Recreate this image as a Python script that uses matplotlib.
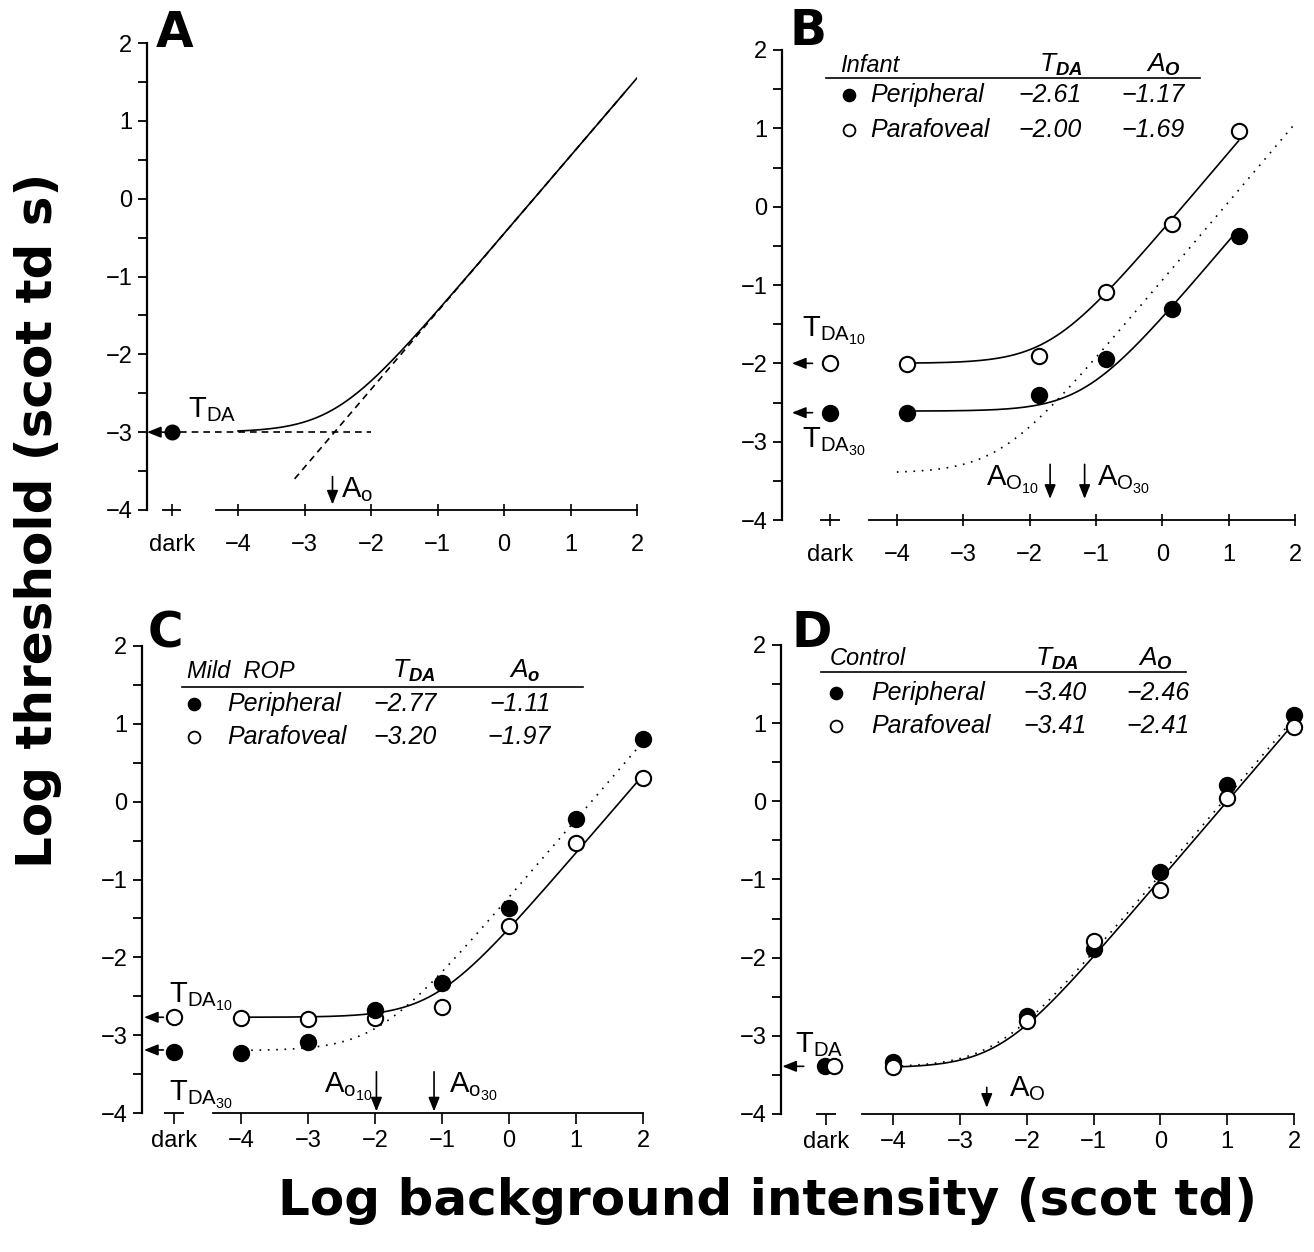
import numpy as np
import matplotlib
matplotlib.use("Agg")
import matplotlib.pyplot as plt

plt.rcParams.update({
    "font.family": ["Liberation Sans", "DejaVu Sans"],
    "mathtext.fontset": "custom",
    "mathtext.rm": "Liberation Sans",
    "mathtext.it": "Liberation Sans:italic",
    "mathtext.bf": "Liberation Sans:bold:italic",
    "axes.unicode_minus": True,
})

# ---------------- data ----------------
X_TICKS = [-4, -3, -2, -1, 0, 1, 2]
X_TICK_LABELS = ["dark", "−4", "−3", "−2", "−1", "0", "1", "2"]
Y_TICKS = [-4, -3, -2, -1, 0, 1, 2]
Y_MINOR = [-3.5, -2.5, -1.5, -0.5, 0.5, 1.5]
Y_TICK_LABELS = ["−4", "−3", "−2", "−1", "0", "1", "2"]
DARK = -5.0

# Panel A (schematic)
a_tda = -3.0
a_ao = -2.55

# Panel B - Infant
b_x = [-3.85, -1.85, -0.85, 0.15, 1.15]
b_peri = [-2.63, -2.40, -1.95, -1.30, -0.38]
b_para = [-2.01, -1.91, -1.09, -0.22, 0.97]
b_dark_peri = -2.63
b_dark_para = -2.00
b_rows = ["Peripheral", "Parafoveal"]
b_tda = ["−2.61", "−2.00"]
b_ao = ["−1.17", "−1.69"]
b_fit_tda = [-2.61, -2.00]
b_fit_ao = [-1.17, -1.69]

# Panel C - Mild ROP
c_x = [-4, -3, -2, -1, 0, 1, 2]
c_filled = [-3.23, -3.09, -2.68, -2.33, -1.36, -0.22, 0.80]
c_open = [-2.78, -2.79, -2.78, -2.64, -1.60, -0.53, 0.30]
c_dark_filled = -3.22
c_dark_open = -2.77
c_rows = ["Peripheral", "Parafoveal"]
c_tda = ["−2.77", "−3.20"]
c_ao = ["−1.11", "−1.97"]
c_fit_tda = [-2.77, -3.20]
c_fit_ao = [-1.11, -1.97]

# Panel D - Control
d_x = [-4, -2, -1, 0, 1, 2]
d_filled = [-3.33, -2.74, -1.89, -0.90, 0.21, 1.11]
d_open = [-3.40, -2.81, -1.79, -1.14, 0.04, 0.95]
d_dark = -3.39
d_rows = ["Peripheral", "Parafoveal"]
d_tda = ["−3.40", "−3.41"]
d_ao = ["−2.46", "−2.41"]
d_fit_tda = [-3.40, -3.41]
d_fit_ao = [-2.46, -2.41]


def template(x, tda, ao):
    return tda + np.log10(1.0 + 10.0 ** (x - ao))


W, H = 1314, 1252
fig = plt.figure(figsize=(W / 100, H / 100), dpi=100)

TICK_FS = 17
ANN_FS = 21
TAB_FS = 18
HEAD_FS = 17
LW = 1.2
MS = 11


def make_axes(rect, xmin, xstart, tickdir):
    ax = fig.add_axes(rect)
    ax.set_xlim(xmin, 2.0)
    ax.set_ylim(-4, 2)
    ax.patch.set_alpha(0)
    for s in ["top", "right"]:
        ax.spines[s].set_visible(False)
    ax.spines["left"].set_bounds(-4, 2)
    ax.spines["left"].set_linewidth(1.6)
    ax.spines["bottom"].set_bounds(xstart, 2)
    ax.spines["bottom"].set_linewidth(1.3)
    ax.set_xticks([DARK] + X_TICKS)
    ax.set_xticklabels(X_TICK_LABELS)
    ax.set_yticks(Y_TICKS)
    ax.set_yticklabels(Y_TICK_LABELS)
    ax.set_yticks(Y_MINOR, minor=True)
    ax.tick_params(axis="y", which="both", direction="out", length=6.5,
                   width=1.3, pad=4, labelsize=TICK_FS)
    if tickdir == "inout":
        ax.tick_params(axis="x", direction="inout", length=9, width=1.2,
                       pad=13, labelsize=TICK_FS)
    else:
        ax.tick_params(axis="x", direction="out", length=8, width=1.2,
                       pad=4, labelsize=TICK_FS)
    ax.plot([DARK - 0.15, DARK + 0.14], [-4, -4], color="k", lw=1.3,
            clip_on=False, solid_capstyle="butt")
    return ax


def arrow(ax, x0, y0, x1, y1):
    ax.annotate("", xy=(x1, y1), xytext=(x0, y0),
                arrowprops=dict(arrowstyle="-|>,head_length=0.7,head_width=0.28",
                                lw=1.2, color="k", shrinkA=0, shrinkB=0,
                                mutation_scale=12),
                annotation_clip=False)


def pts(ax, x, y, filled, ms=MS, z=4):
    ax.plot(x, y, "o", ms=ms, mfc="k" if filled else "white", mec="k",
            mew=1.5, ls="none", clip_on=False, zorder=z)


def table(ax, title, ao_sym, rows, tdas, aos, L):
    ax.text(L["title_x"], L["head_y"], title, style="italic", fontsize=HEAD_FS,
            ha="left", va="baseline")
    ax.text(L["tda_cx"], L["head_y"], r"$T_{\mathbf{DA}}$", fontsize=HEAD_FS + 2,
            ha="center", va="baseline")
    ax.text(L["ao_cx"], L["head_y"], r"$A_{\mathbf{%s}}$" % ao_sym,
            fontsize=HEAD_FS + 2, ha="center", va="baseline")
    ax.plot([L["line_x0"], L["line_x1"]], [L["line_y"]] * 2, "k", lw=1.2,
            clip_on=False)
    for i, (name, t, a) in enumerate(zip(rows, tdas, aos)):
        y = L["row_y"][i]
        ax.plot(L["mk_x"], y, "o", ms=8.5, mfc="k" if i == 0 else "white",
                mec="k", mew=1.3, clip_on=False)
        ax.text(L["name_x"], y, name, style="italic", fontsize=TAB_FS,
                ha="left", va="center")
        ax.text(L["c1_x"], y, t, style="italic", fontsize=TAB_FS,
                ha="right", va="center")
        ax.text(L["c2_x"], y, a, style="italic", fontsize=TAB_FS,
                ha="right", va="center")


# ---------------- Panel A ----------------
axA = make_axes([147 / W, 1 - 510 / H, 490 / W, 467 / H], -5.37, -4.33, "inout")
xa = np.linspace(-4, 2, 400)
axA.plot(xa, template(xa, a_tda, a_ao), "k", lw=LW)
axA.plot([-4.87, -2.0], [a_tda, a_tda], "k", lw=LW, dashes=(4, 3))
xd = np.array([-3.15, 1.85])
axA.plot(xd, xd + (a_tda - a_ao), "k", lw=LW, dashes=(4, 3))
pts(axA, [DARK], [a_tda], True, ms=10)
arrow(axA, DARK, a_tda, -5.37, a_tda)
axA.text(-4.75, -2.81, r"$\mathrm{T}_{\mathrm{DA}}$", fontsize=ANN_FS,
         ha="left", va="baseline")
arrow(axA, -2.58, -3.57, -2.58, -3.93)
axA.text(-2.45, -3.83, r"$\mathrm{A}_{\mathrm{o}}$", fontsize=ANN_FS,
         ha="left", va="baseline")

# ---------------- Panel B ----------------
axB = make_axes([782 / W, 1 - 520 / H, 513 / W, 470 / H], -5.73, -4.42, "inout")
xb = np.linspace(b_x[0], b_x[-1], 400)
axB.plot(xb, template(xb, b_fit_tda[1], b_fit_ao[1]), "k", lw=LW)
axB.plot(xb, template(xb, b_fit_tda[0], b_fit_ao[0]), "k", lw=LW)
xbd = np.linspace(-4, 2, 400)
axB.plot(xbd, template(xbd, d_fit_tda[0], d_fit_ao[0]), "k", lw=LW,
         dashes=(1, 4))
pts(axB, b_x, b_para, False)
pts(axB, b_x, b_peri, True)
pts(axB, [DARK], [b_dark_para], False)
pts(axB, [DARK], [b_dark_peri], True)
arrow(axB, -5.27, b_dark_para, -5.58, b_dark_para)
arrow(axB, -5.27, b_dark_peri, -5.58, b_dark_peri)
axB.text(-5.43, -1.66, r"$\mathrm{T}_{\mathrm{DA}_{10}}$", fontsize=ANN_FS,
         ha="left", va="baseline")
axB.text(-5.43, -3.08, r"$\mathrm{T}_{\mathrm{DA}_{30}}$", fontsize=ANN_FS,
         ha="left", va="baseline")
arrow(axB, b_fit_ao[1], -3.29, b_fit_ao[1], -3.73)
arrow(axB, b_fit_ao[0], -3.29, b_fit_ao[0], -3.73)
axB.text(-1.85, -3.56, r"$\mathrm{A}_{\mathrm{O}_{10}}$", fontsize=ANN_FS,
         ha="right", va="baseline")
axB.text(-0.98, -3.56, r"$\mathrm{A}_{\mathrm{O}_{30}}$", fontsize=ANN_FS,
         ha="left", va="baseline")
table(axB, "Infant", "O", b_rows, b_tda, b_ao,
      dict(title_x=-4.85, head_y=1.72, tda_cx=-1.53, ao_cx=0.02,
           line_x0=-5.06, line_x1=0.57, line_y=1.64, row_y=[1.43, 0.98],
           mk_x=-4.72, name_x=-4.40, c1_x=-1.22, c2_x=0.34))

# ---------------- Panel C ----------------
axC = make_axes([142 / W, 1 - 1113 / H, 501 / W, 467 / H], -5.48, -4.42, "out")
xc = np.linspace(-4, 2, 400)
axC.plot(xc, template(xc, c_fit_tda[0], c_fit_ao[0]), "k", lw=LW)
xcd = np.linspace(-3.85, 2, 400)
axC.plot(xcd, template(xcd, c_fit_tda[1], c_fit_ao[1]), "k", lw=LW,
         dashes=(1, 4))
pts(axC, c_x, c_open, False)
pts(axC, c_x, c_filled, True)
pts(axC, [DARK], [c_dark_open], False)
pts(axC, [DARK], [c_dark_filled], True)
arrow(axC, -5.16, c_dark_open, -5.45, c_dark_open)
arrow(axC, -5.16, -3.19, -5.45, -3.19)
axC.text(-5.08, -2.59, r"$\mathrm{T}_{\mathrm{DA}_{10}}$", fontsize=ANN_FS,
         ha="left", va="baseline")
axC.text(-5.08, -3.85, r"$\mathrm{T}_{\mathrm{DA}_{30}}$", fontsize=ANN_FS,
         ha="left", va="baseline")
arrow(axC, -1.98, -3.47, -1.98, -3.98)
arrow(axC, -1.12, -3.47, -1.12, -3.98)
axC.text(-2.04, -3.74, r"$\mathrm{A}_{\mathrm{o}_{10}}$", fontsize=ANN_FS,
         ha="right", va="baseline")
axC.text(-0.89, -3.74, r"$\mathrm{A}_{\mathrm{o}_{30}}$", fontsize=ANN_FS,
         ha="left", va="baseline")
table(axC, "Mild  ROP", "o", c_rows, c_tda, c_ao,
      dict(title_x=-4.81, head_y=1.59, tda_cx=-1.43, ao_cx=0.24,
           line_x0=-4.88, line_x1=1.10, line_y=1.47, row_y=[1.26, 0.83],
           mk_x=-4.71, name_x=-4.20, c1_x=-1.08, c2_x=0.62))

# ---------------- Panel D ----------------
axD = make_axes([781 / W, 1 - 1114 / H, 513 / W, 469 / H], -5.68, -4.46, "out")
xdd = np.linspace(-4, 2, 400)
axD.plot(xdd, template(xdd, d_fit_tda[0], d_fit_ao[0]), "k", lw=LW,
         dashes=(1, 4))
axD.plot(xdd, template(xdd, d_fit_tda[1], d_fit_ao[1]), "k", lw=LW)
pts(axD, d_x, d_filled, True)
pts(axD, d_x, d_open, False)
pts(axD, [DARK - 0.02], [d_dark], True)
pts(axD, [DARK + 0.11], [d_dark], False)
arrow(axD, -5.34, d_dark, -5.66, d_dark)
axD.text(-5.47, -3.21, r"$\mathrm{T}_{\mathrm{DA}}$", fontsize=ANN_FS,
         ha="left", va="baseline")
arrow(axD, -2.6, -3.66, -2.6, -3.92)
axD.text(-2.27, -3.77, r"$\mathrm{A}_{\mathrm{O}}$", fontsize=ANN_FS,
         ha="left", va="baseline")
table(axD, "Control", "O", d_rows, d_tda, d_ao,
      dict(title_x=-4.95, head_y=1.74, tda_cx=-1.55, ao_cx=-0.07,
           line_x0=-5.08, line_x1=0.38, line_y=1.66, row_y=[1.39, 0.97],
           mk_x=-4.85, name_x=-4.33, c1_x=-1.10, c2_x=0.44))

# ---------------- labels ----------------
for letter, (px, py) in zip("ABCD", [(156, 47), (790, 45), (148, 648), (791, 647)]):
    fig.text(px / W, 1 - py / H, letter, fontsize=35, fontweight="bold",
             family="DejaVu Sans", ha="left", va="baseline")

fig.text(38 / W, 1 - 520 / H, "Log threshold (scot td s)", rotation=90,
         fontsize=36, fontweight="bold", family="DejaVu Sans",
         ha="center", va="center")
fig.text(767 / W, 1 - 1215 / H, "Log background intensity (scot td)",
         fontsize=36, fontweight="bold", family="DejaVu Sans",
         ha="center", va="baseline")

fig.savefig("out.png", dpi=100)
